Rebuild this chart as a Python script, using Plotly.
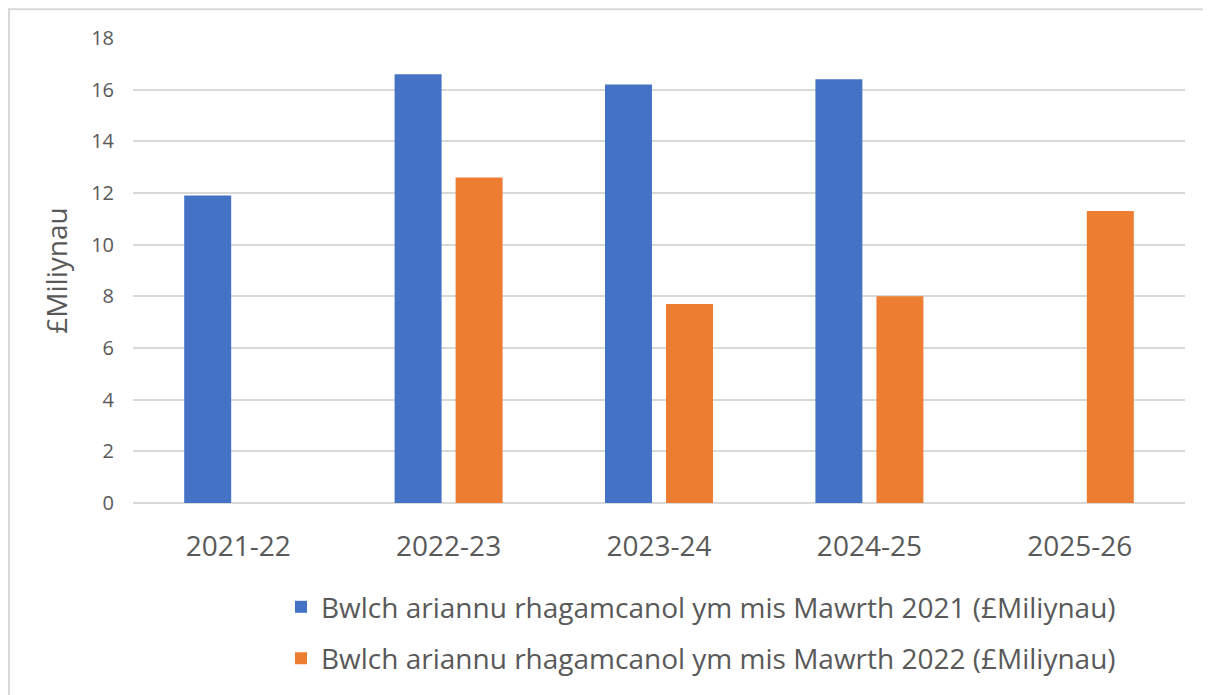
import plotly.graph_objects as go

categories = ["2021-22", "2022-23", "2023-24", "2024-25", "2025-26"]
series_2021 = [11.9, 16.6, 16.2, 16.4, None]
series_2022 = [None, 12.6, 7.7, 8.0, 11.3]
name_2021 = "Bwlch ariannu rhagamcanol ym mis Mawrth 2021 (£Miliynau)"
name_2022 = "Bwlch ariannu rhagamcanol ym mis Mawrth 2022 (£Miliynau)"
y_ticks = [0, 2, 4, 6, 8, 10, 12, 14, 16, 18]

OFF = 8  # page body margin
W, H = 1211 - OFF, 695 - OFF
L, T = 133 - OFF, 38 - OFF
R = W - (1185 - OFF)
B = H - (507 - OFF)
pw, ph = W - L - R, H - T - B

def px_x(p):
    return (p - OFF - L) / pw

def px_y(p):
    return (H - B - (p - OFF)) / ph

font_family = "Open Sans, Noto Sans, sans-serif"
grey = "#595959"

fig = go.Figure()
fig.add_trace(go.Bar(x=categories, y=series_2021, name=name_2021,
                     marker=dict(color="#4472C4", line=dict(width=0)),
                     legend="legend"))
fig.add_trace(go.Bar(x=categories, y=series_2022, name=name_2022,
                     marker=dict(color="#ED7D31", line=dict(width=0)),
                     legend="legend2"))

leg_common = dict(xanchor="left", yanchor="middle", bgcolor="rgba(0,0,0,0)",
                  font=dict(family=font_family, size=28, color=grey),
                  borderwidth=0)

fig.update_layout(
    width=W, height=H,
    margin=dict(l=L, r=R, t=T, b=B),
    paper_bgcolor="white", plot_bgcolor="white",
    barmode="group", bargap=0.42, bargroupgap=0.23,
    font=dict(family=font_family, color=grey),
    showlegend=True,
    legend=dict(x=px_x(281), y=px_y(612), **leg_common),
    legend2=dict(x=px_x(281), y=px_y(664), **leg_common),
    xaxis=dict(showgrid=False, showline=False, ticks="", ticklabelstandoff=24,
               tickfont=dict(family=font_family, size=28, color=grey)),
    yaxis=dict(range=[0, 18], tickvals=y_ticks, showgrid=True,
               gridcolor="#d9d9d9", gridwidth=1.5, zeroline=True,
               zerolinecolor="#d9d9d9", zerolinewidth=1.5, showline=False,
               ticks="", ticklen=0, ticklabelstandoff=18,
               tickfont=dict(family=font_family, size=20, color=grey),
               title=dict(text="£Miliynau", standoff=15,
                          font=dict(family=font_family, size=28, color=grey))),
    shapes=[dict(type="rect", xref="paper", yref="paper",
                 x0=px_x(9), x1=px_x(1240), y0=px_y(9), y1=px_y(740),
                 line=dict(color="#d9d9d9", width=2), fillcolor="rgba(0,0,0,0)",
                 layer="below")],
)

fig.write_html("out.html")
